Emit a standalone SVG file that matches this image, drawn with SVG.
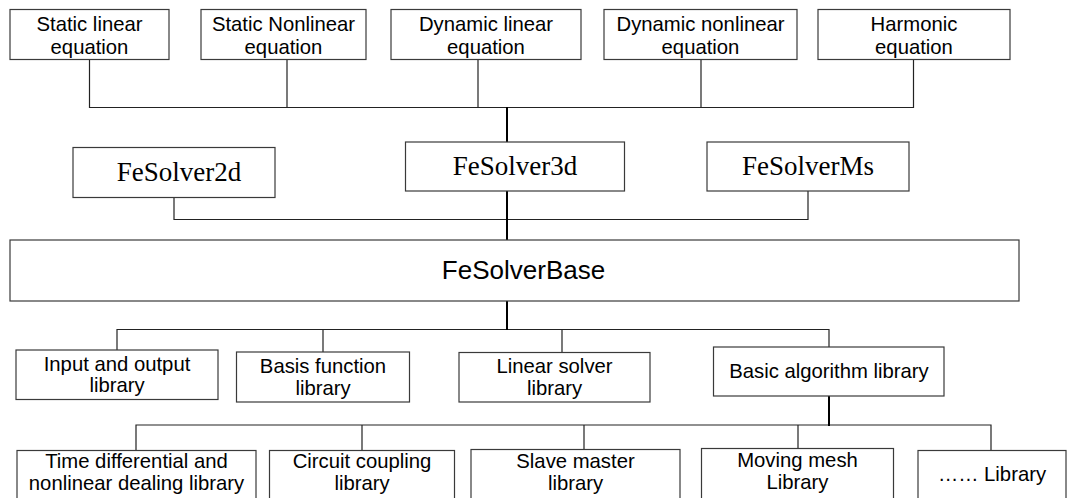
<svg xmlns="http://www.w3.org/2000/svg" width="1075" height="498" viewBox="0 0 1075 498">
<style>
.box{fill:#fff;stroke:#3a3a3a;stroke-width:1.2}
.t{font-family:"Liberation Sans",Arial,sans-serif;font-size:20.3px;fill:#000;text-anchor:middle}
.s{font-family:"Liberation Serif","Times New Roman",serif;font-size:27px;fill:#000;text-anchor:middle}
.b{font-family:"Liberation Sans",Arial,sans-serif;font-size:26px;fill:#000;text-anchor:middle}
.c{fill:none;stroke:#222;stroke-width:1.2}
.k{fill:none;stroke:#000;stroke-width:2}
</style>
<rect width="1075" height="498" fill="#fff"/>
<g id="connectors">
<path class="c" d="M89.5 59V107.5H913.5V59M287 59V107.5M478 59V107.5M701 59V107.5"/>
<path class="k" d="M507 107V142"/>
<path class="c" d="M174 197V219.5H808V191"/>
<path class="k" d="M507 191V240"/>
<path class="c" d="M117 350V329.5H829V347M323 329.5V352M562 329.5V353"/>
<path class="k" d="M507 301V330"/>
<path class="c" d="M136 450V425H991V450M362 425V450M584 425V449M798 425V448"/>
<path class="k" d="M829 396V426"/>
</g>
<g id="n1"><rect class="box" x="10" y="9.5" width="159" height="50"/><text class="t" x="89.5" y="31">Static linear</text><text class="t" x="89.5" y="53.5">equation</text></g>
<g id="n2"><rect class="box" x="201" y="9.5" width="165" height="50"/><text class="t" x="283.5" y="31">Static Nonlinear</text><text class="t" x="283.5" y="53.5">equation</text></g>
<g id="n3"><rect class="box" x="391" y="9.5" width="190" height="50"/><text class="t" x="486" y="31">Dynamic linear</text><text class="t" x="486" y="53.5">equation</text></g>
<g id="n4"><rect class="box" x="604" y="9.5" width="193" height="50"/><text class="t" x="700.5" y="31">Dynamic nonlinear</text><text class="t" x="700.5" y="53.5">equation</text></g>
<g id="n5"><rect class="box" x="818" y="9.5" width="192" height="50"/><text class="t" x="914" y="31">Harmonic</text><text class="t" x="914" y="53.5">equation</text></g>
<g id="fe2d"><rect class="box" x="73" y="147.5" width="202" height="50"/><text class="s" x="179" y="181">FeSolver2d</text></g>
<g id="fe3d"><rect class="box" x="405.5" y="142" width="219" height="49"/><text class="s" x="515" y="175">FeSolver3d</text></g>
<g id="feMs"><rect class="box" x="707" y="142" width="202" height="49"/><text class="s" x="808" y="175">FeSolverMs</text></g>
<g id="base"><rect class="box" x="10" y="240" width="1009" height="61"/><text class="b" x="523.5" y="279">FeSolverBase</text></g>
<g id="io"><rect class="box" x="16" y="350" width="202" height="49.5"/><text class="t" x="117" y="370.5">Input and output</text><text class="t" x="117" y="392">library</text></g>
<g id="basis"><rect class="box" x="236.5" y="352" width="173" height="50"/><text class="t" x="323" y="373">Basis function</text><text class="t" x="323" y="394.5">library</text></g>
<g id="linear"><rect class="box" x="459" y="352.5" width="191" height="49.5"/><text class="t" x="554.5" y="373">Linear solver</text><text class="t" x="554.5" y="394.5">library</text></g>
<g id="algo"><rect class="box" x="713.5" y="347" width="230.5" height="49"/><text class="t" x="829" y="377.5">Basic algorithm library</text></g>
<g id="time"><rect class="box" x="17" y="450.5" width="239" height="52"/><text class="t" x="136.5" y="468">Time differential and</text><text class="t" x="136.5" y="489.5">nonlinear dealing library</text></g>
<g id="circuit"><rect class="box" x="269.5" y="450.5" width="185" height="52"/><text class="t" x="362" y="468">Circuit coupling</text><text class="t" x="362" y="489.5">library</text></g>
<g id="slave"><rect class="box" x="471" y="449.5" width="209" height="53"/><text class="t" x="575.5" y="468">Slave master</text><text class="t" x="575.5" y="489.5">library</text></g>
<g id="moving"><rect class="box" x="701.5" y="448.5" width="192" height="54"/><text class="t" x="797.5" y="467">Moving mesh</text><text class="t" x="797.5" y="488.5">Library</text></g>
<g id="more"><rect class="box" x="918" y="450.5" width="148" height="52"/><text class="t" x="992" y="481">…… Library</text></g>
</svg>
